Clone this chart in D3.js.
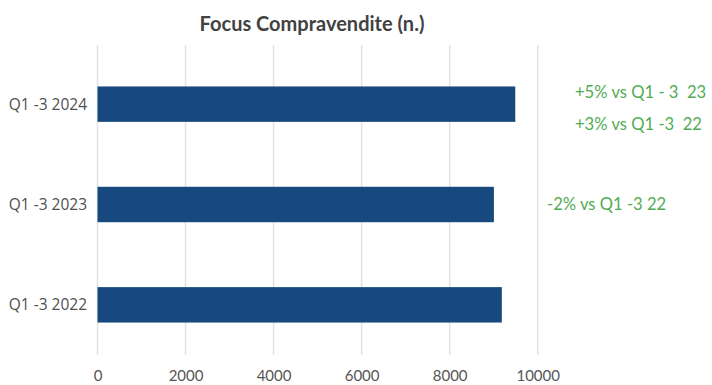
<!DOCTYPE html>
<html>
<head>
<meta charset="utf-8">
<script src="https://cdn.jsdelivr.net/npm/d3@7"></script>
<style>
  html, body { margin: 0; padding: 0; background: #ffffff; }
  svg { display: block; }
</style>
</head>
<body>
<svg id="chart" width="712" height="385"></svg>
<script>
// Data
const categories = ["Q1 -3 2024", "Q1 -3 2023", "Q1 -3 2022"];
const values = [9490, 9005, 9185];
const tickValues = [0, 2000, 4000, 6000, 8000, 10000];
const noteCategories = ["Q1 -3 2024", "Q1 -3 2024", "Q1 -3 2023"];
const noteTexts = ["+5% vs Q1 - 3  23", "+3% vs Q1 -3  22", "-2% vs Q1 -3 22"];

const title = "Focus Compravendite (n.)";

// Layout
const W = 712, H = 385;
const plotLeft = 97.5, plotRight = 537.7;
const bandTop = 54, bandBottom = 355;
const gridTop = 45;
const noteLayout = [
  { x: 575, dy: -12 },
  { x: 575, dy: 20 },
  { x: 547, dy: 0 }
];

const svg = d3.select("#chart");

const x = d3.scaleLinear().domain([0, 10000]).range([plotLeft, plotRight]);
const y = d3.scaleBand().domain(categories).range([bandTop, bandBottom]).paddingInner(0.647).paddingOuter(0.3235);

// Title
svg.append("text")
  .attr("x", 312)
  .attr("y", 31)
  .attr("text-anchor", "middle")
  .attr("font-family", "Lato, sans-serif")
  .attr("font-weight", "bold")
  .attr("font-size", 20)
  .attr("fill", "#424242")
  .text(title);

// Vertical gridlines
svg.append("g")
  .selectAll("line")
  .data(tickValues)
  .join("line")
  .attr("x1", d => x(d))
  .attr("x2", d => x(d))
  .attr("y1", gridTop)
  .attr("y2", bandBottom)
  .attr("stroke", "#e2e2e2")
  .attr("stroke-width", 1.5);

// Bars
svg.append("g")
  .selectAll("rect")
  .data(categories)
  .join("rect")
  .attr("x", x(0))
  .attr("y", d => y(d))
  .attr("width", (d, i) => x(values[i]) - x(0))
  .attr("height", y.bandwidth())
  .attr("fill", "#17497e");

// Category axis labels
svg.append("g")
  .selectAll("text")
  .data(categories)
  .join("text")
  .attr("x", 87)
  .attr("y", d => y(d) + y.bandwidth() / 2)
  .attr("dy", "0.35em")
  .attr("text-anchor", "end")
  .attr("font-family", "'Open Sans', sans-serif")
  .attr("font-size", 15.5)
  .attr("fill", "#505050")
  .text(d => d);

// Value axis
const xAxis = d3.axisBottom(x).tickValues(tickValues).tickSize(0).tickPadding(0).tickFormat(d3.format("d"));
const gx = svg.append("g").attr("transform", `translate(0, ${bandBottom})`).call(xAxis);
gx.select(".domain").remove();
gx.selectAll("text")
  .attr("y", 26)
  .attr("dy", 0)
  .attr("font-family", "Lato, sans-serif")
  .attr("font-size", 15)
  .attr("fill", "#555555");

// Change notes
svg.append("g")
  .selectAll("text")
  .data(noteTexts)
  .join("text")
  .attr("x", (d, i) => noteLayout[i].x)
  .attr("y", (d, i) => y(noteCategories[i]) + y.bandwidth() / 2 + noteLayout[i].dy)
  .attr("dy", "0.35em")
  .attr("font-family", "Lato, sans-serif")
  .attr("font-size", 16.6)
  .attr("fill", "#52ab55")
  .attr("xml:space", "preserve")
  .style("white-space", "pre")
  .text(d => d);
</script>
</body>
</html>
